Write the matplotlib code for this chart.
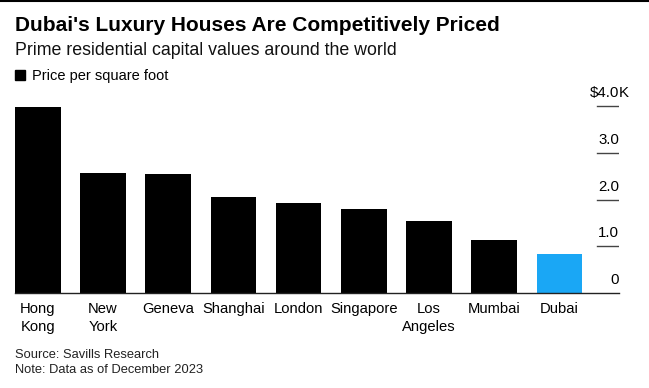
import matplotlib.pyplot as plt
from matplotlib.patches import Rectangle
from matplotlib.lines import Line2D

# Dữ liệu (nghìn USD / foot vuông)
cities = ["Hong\nKong", "New\nYork", "Geneva", "Shanghai", "London",
          "Singapore", "Los\nAngeles", "Mumbai", "Dubai"]
prices = [3.99, 2.56, 2.55, 2.06, 1.92, 1.80, 1.55, 1.14, 0.85]
bar_colors = ["#000000"] * 8 + ["#1AA7F5"]
yticks = [0, 1.0, 2.0, 3.0, 4.0]
ytick_labels = ["0", "1.0", "2.0", "3.0", "$4.0"]

plt.rcParams['font.family'] = ['Liberation Sans', 'DejaVu Sans']

W, H = 649, 388
fig = plt.figure(figsize=(W / 100, H / 100), dpi=100)

# Vùng vẽ: cột đầu tiên bắt đầu ở x=15px, đường cơ sở ở y=293px
left, right = 15 / W, 619 / W
bottom, top = (H - 293.3) / H, (H - 100) / H
ax = fig.add_axes([left, bottom, right - left, top - bottom])

x = range(len(cities))
ax.bar(x, prices, width=0.70, color=bar_colors)

ax.set_xlim(-0.35, len(cities) - 1 + 0.914)
ax.set_ylim(0, 4.13)

ax.set_xticks(list(x))
ax.set_xticklabels(cities, fontsize=10.6, multialignment='center',
                   linespacing=1.33)
ax.tick_params(axis='x', length=0, pad=6.5)
ax.set_yticks([])

for s in ['top', 'right', 'left']:
    ax.spines[s].set_visible(False)
ax.spines['bottom'].set_linewidth(1.0)
ax.spines['bottom'].set_color('#222222')

# Nhãn trục y bên phải, có gạch ngắn bên dưới
for val, lab in zip(yticks, ytick_labels):
    if val > 0:
        ax.axhline(val, xmin=0.9636, xmax=1.0, color='#444444', lw=1.0)
    ax.annotate(lab.replace("$", r"\$"), xy=(1.0, val),
                xycoords=('axes fraction', 'data'),
                xytext=(0, 6.5), textcoords='offset points',
                ha='right', va='baseline', fontsize=10.8)
ax.annotate("K", xy=(1.0, 4.0), xycoords=('axes fraction', 'data'),
            xytext=(0, 6.5), textcoords='offset points',
            ha='left', va='baseline', fontsize=10.8)

# Tiêu đề, phụ đề, chú thích
fig.text(15 / W, 1 - 31 / H, "Dubai's Luxury Houses Are Competitively Priced",
         fontsize=15, fontweight='bold', va='baseline', ha='left')
fig.text(15 / W, 1 - 55 / H, "Prime residential capital values around the world",
         fontsize=12.8, va='baseline', ha='left', color='#111111')
fig.patches.append(Rectangle((15 / W, 1 - 80 / H), 10 / W, 10 / H,
                             transform=fig.transFigure, color='black'))
fig.text(32 / W, 1 - 80 / H, "Price per square foot",
         fontsize=10.5, va='baseline', ha='left')

fig.text(15 / W, 1 - 358 / H, "Source: Savills Research",
         fontsize=9.3, va='baseline', ha='left', color='#222222')
fig.text(15 / W, 1 - 373 / H, "Note: Data as of December 2023",
         fontsize=9.3, va='baseline', ha='left', color='#222222')

# Viền đen mảnh ở mép trên
fig.lines.append(Line2D([0, 1], [1 - 0.5 / H, 1 - 0.5 / H],
                        transform=fig.transFigure, color='black', lw=1.5))

fig.savefig("out.png", dpi=100, facecolor='white')
